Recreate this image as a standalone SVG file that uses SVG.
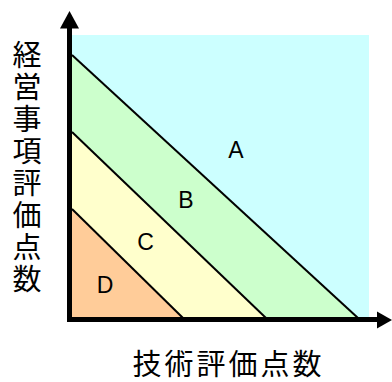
<svg xmlns="http://www.w3.org/2000/svg" width="392" height="382" viewBox="0 0 392 382">
<style>
.lbl{font-family:"Liberation Sans",Arial,sans-serif;font-size:23px;fill:#000;text-anchor:middle}
.jp{font-family:"Noto Sans CJK JP","Noto Sans CJK SC",sans-serif;font-size:29px;fill:#000;letter-spacing:3px}
.div{stroke:#000;stroke-width:2;fill:none}
.axis{stroke:#000;stroke-width:5;fill:none}
</style>
<rect width="392" height="382" fill="#fff"/>
<g id="zone-A"><rect x="72" y="35" width="297" height="282" fill="#CCFFFF"/><text class="lbl" x="236" y="158">A</text></g>
<g id="zone-B"><polygon points="72,55 358,317 266,317 72,132" fill="#CCFFCC"/><text class="lbl" x="186" y="208">B</text></g>
<g id="zone-C"><polygon points="72,132 266,317 183,317 72,209" fill="#FFFFCC"/><text class="lbl" x="145.5" y="250">C</text></g>
<g id="zone-D"><polygon points="72,209 183,317 72,317" fill="#FFCC99"/><text class="lbl" x="105" y="293">D</text></g>
<g id="connectors">
<line class="div" x1="72" y1="55" x2="358" y2="318"/>
<line class="div" x1="72" y1="132" x2="266" y2="318"/>
<line class="div" x1="72" y1="209" x2="183" y2="318"/>
<line class="axis" x1="69.5" y1="322" x2="69.5" y2="27"/>
<polygon points="69.5,11 60,28.5 79,28.5" fill="#000"/>
<line class="axis" x1="67" y1="319.5" x2="378" y2="319.5"/>
<polygon points="392,320 377,311.5 377,328.5" fill="#000"/>
</g>
<g id="y-label"><text class="jp" x="27" y="40" style="writing-mode:vertical-rl;text-orientation:upright">経営事項評価点数</text></g>
<g id="x-label"><text class="jp" x="132.5" y="375">技術評価点数</text></g>
</svg>
